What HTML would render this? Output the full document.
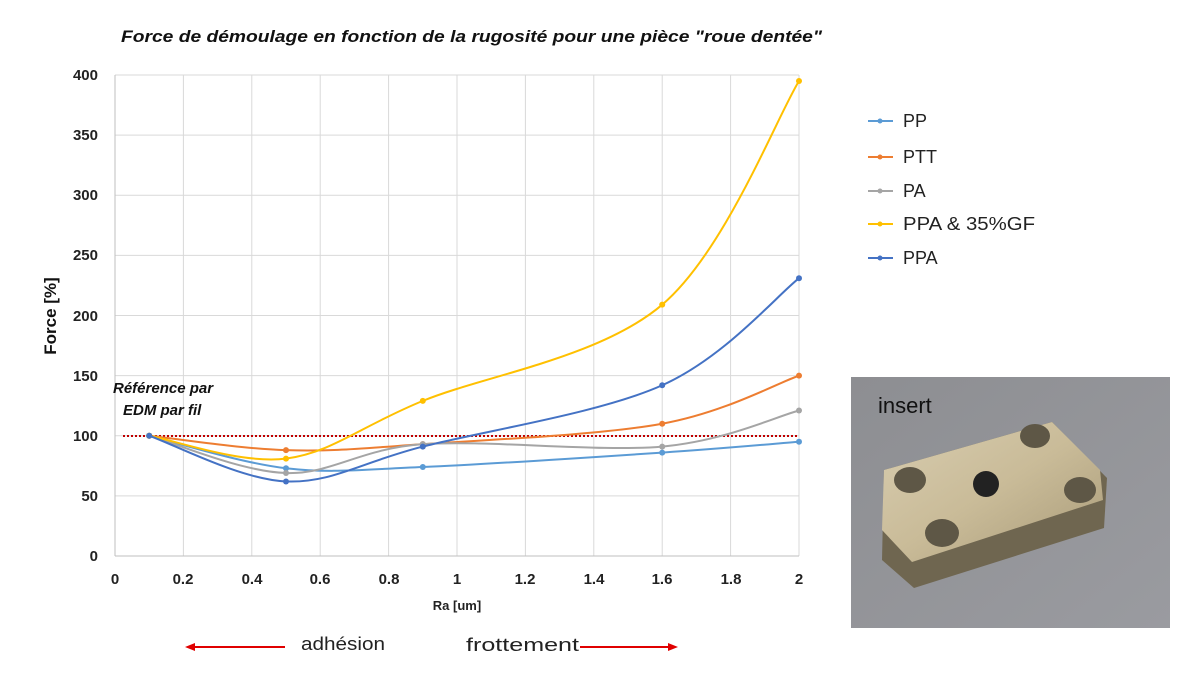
<!DOCTYPE html>
<html><head><meta charset="utf-8"><style>
body{margin:0;background:#fff;width:1200px;height:675px;overflow:hidden;font-family:"Liberation Sans",sans-serif}
</style></head><body>
<svg width="1200" height="675" xmlns="http://www.w3.org/2000/svg" font-family="Liberation Sans, sans-serif">
<text x="121" y="42" font-size="17" font-weight="bold" font-style="italic" fill="#111" textLength="701" lengthAdjust="spacingAndGlyphs">Force de démoulage en fonction de la rugosité pour une pièce "roue dentée"</text>
<g id="grid" stroke="#d9d9d9" stroke-width="1"></g>
<line x1="115" y1="556" x2="799" y2="556" stroke="#bfbfbf"/>
<line x1="115" y1="75" x2="115" y2="556" stroke="#bfbfbf"/>
<g font-size="15" font-weight="bold" fill="#222" text-anchor="end">
<text x="98" y="80">400</text><text x="98" y="140">350</text><text x="98" y="200">300</text><text x="98" y="260">250</text><text x="98" y="321">200</text><text x="98" y="381">150</text><text x="98" y="441">100</text><text x="98" y="501">50</text><text x="98" y="561">0</text>
</g>
<g font-size="15" font-weight="bold" fill="#222" text-anchor="middle">
<text x="115" y="584">0</text><text x="183" y="584">0.2</text><text x="252" y="584">0.4</text><text x="320" y="584">0.6</text><text x="389" y="584">0.8</text><text x="457" y="584">1</text><text x="525" y="584">1.2</text><text x="594" y="584">1.4</text><text x="662" y="584">1.6</text><text x="731" y="584">1.8</text><text x="799" y="584">2</text>
</g>
<text x="457" y="610" font-size="13" font-weight="bold" text-anchor="middle" fill="#222">Ra [um]</text>
<text transform="translate(56,316) rotate(-90)" font-size="17" font-weight="bold" text-anchor="middle" fill="#111">Force [%]</text>
<text x="113" y="393" font-size="15" font-weight="bold" font-style="italic" fill="#111">Référence par</text>
<text x="123" y="415" font-size="15" font-weight="bold" font-style="italic" fill="#111">EDM par fil</text>
<line x1="123" y1="436" x2="799" y2="436" stroke="#c00000" stroke-width="2" stroke-dasharray="2,2"/>
<g id="series"></g>
<g font-size="18" fill="#222">
<line x1="868" y1="121" x2="893" y2="121" stroke="#5b9bd5" stroke-width="2"/><circle cx="880" cy="121" r="2.5" fill="#5b9bd5"/><text x="903" y="127">PP</text>
<line x1="868" y1="157" x2="893" y2="157" stroke="#ed7d31" stroke-width="2"/><circle cx="880" cy="157" r="2.5" fill="#ed7d31"/><text x="903" y="163">PTT</text>
<line x1="868" y1="191" x2="893" y2="191" stroke="#a5a5a5" stroke-width="2"/><circle cx="880" cy="191" r="2.5" fill="#a5a5a5"/><text x="903" y="197">PA</text>
<line x1="868" y1="224" x2="893" y2="224" stroke="#ffc000" stroke-width="2"/><circle cx="880" cy="224" r="2.5" fill="#ffc000"/><text x="903" y="230" textLength="132" lengthAdjust="spacingAndGlyphs">PPA &amp; 35%GF</text>
<line x1="868" y1="258" x2="893" y2="258" stroke="#4472c4" stroke-width="2"/><circle cx="880" cy="258" r="2.5" fill="#4472c4"/><text x="903" y="264">PPA</text>
</g>
<line x1="190" y1="647" x2="285" y2="647" stroke="#e00000" stroke-width="2"/><polygon points="185,647 195,643 195,651" fill="#e00000"/>
<text x="301" y="650" font-size="18" fill="#222" textLength="84" lengthAdjust="spacingAndGlyphs">adhésion</text>
<text x="466" y="651" font-size="18" fill="#222" textLength="113" lengthAdjust="spacingAndGlyphs">frottement</text>
<line x1="580" y1="647" x2="672" y2="647" stroke="#e00000" stroke-width="2"/><polygon points="678,647 668,643 668,651" fill="#e00000"/>
<defs><linearGradient id="bg" x1="0" y1="0" x2="1" y2="1"><stop offset="0" stop-color="#8d8e92"/><stop offset="1" stop-color="#9a9ba0"/></linearGradient>
<linearGradient id="pl" x1="0" y1="0" x2="1" y2="1"><stop offset="0" stop-color="#d8cdb0"/><stop offset="0.5" stop-color="#c9bb98"/><stop offset="1" stop-color="#a89a78"/></linearGradient></defs>
<rect x="851" y="377" width="319" height="251" fill="url(#bg)"/>
<text x="878" y="413" font-size="22" fill="#111">insert</text>
<polygon points="884,470 1052,422 1107,478 1104,528 914,588 882,560" fill="#6f6650"/>
<polygon points="884,470 1052,422 1100,470 1103,500 912,562 882,530" fill="url(#pl)"/>
<ellipse cx="910" cy="480" rx="16" ry="13" fill="#5e5746"/><ellipse cx="1035" cy="436" rx="15" ry="12" fill="#5e5746"/>
<ellipse cx="1080" cy="490" rx="16" ry="13" fill="#5e5746"/><ellipse cx="942" cy="533" rx="17" ry="14" fill="#5e5746"/>
<circle cx="986" cy="484" r="13" fill="#222"/>
</svg>
<script>
var X=function(x){return 115+342*x},Y=function(v){return 556-1.2025*v};
var g=document.getElementById('grid'),s='';
for(var i=1;i<=10;i++)s+='<line x1="'+X(i*0.2)+'" y1="75" x2="'+X(i*0.2)+'" y2="556"/>';
for(var j=1;j<=8;j++)s+='<line x1="115" y1="'+Y(j*50)+'" x2="799" y2="'+Y(j*50)+'"/>';
g.innerHTML=s;
var xs=[0.1,0.5,0.9,1.6,2];
var D=[["#5b9bd5",[100,73,74,86,95]],["#ed7d31",[100,88,93,110,150]],["#a5a5a5",[100,69,93,91,121]],["#ffc000",[100,81,129,209,395]],["#4472c4",[100,62,91,142,231]]];
var out='';
D.forEach(function(d){
 var p=xs.map(function(x,i){return[X(x),Y(d[1][i])]});
 var path='M'+p[0][0]+','+p[0][1];
 for(var i=0;i<p.length-1;i++){
  var p0=p[i-1]||p[i],p1=p[i],p2=p[i+1],p3=p[i+2]||p2;
  var c1=[p1[0]+(p2[0]-p0[0])/6,p1[1]+(p2[1]-p0[1])/6],c2=[p2[0]-(p3[0]-p1[0])/6,p2[1]-(p3[1]-p1[1])/6];
  path+=' C'+c1+' '+c2+' '+p2;
 }
 out+='<path d="'+path+'" fill="none" stroke="'+d[0]+'" stroke-width="2"/>';
 p.forEach(function(q){out+='<circle cx="'+q[0]+'" cy="'+q[1]+'" r="3" fill="'+d[0]+'"/>'});
});
document.getElementById('series').innerHTML=out;
</script>
</body></html>
